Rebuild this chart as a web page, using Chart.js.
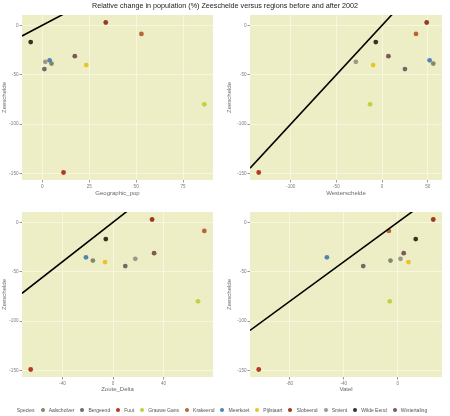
<!DOCTYPE html>
<html>
<head>
<meta charset="utf-8">
<script src="https://cdn.jsdelivr.net/npm/chart.js@4.4.0/dist/chart.umd.min.js"></script>
<style>
  body { margin: 0; background: #fff; font-family: 'Liberation Sans', Arial, sans-serif; }
  #palco { position: relative; width: 450px; height: 416px; overflow: hidden; }
  canvas { position: absolute; }
  #titulo { position: absolute; left: 0; top: 1px; width: 450px; text-align: center; font-size: 7.2px; color: #222; white-space: nowrap; z-index: 2; }
  #legenda { position: absolute; left: 0; top: 407px; width: 450px; display: flex; justify-content: center; align-items: center; font-size: 5px; color: #555; white-space: nowrap; }
  #legenda span.item { display: flex; align-items: center; margin-right: 6px; }
  #legenda span.bola { display: inline-block; width: 4px; height: 4px; border-radius: 50%; margin-right: 4px; }
</style>
</head>
<body>
<div id="palco">
  <canvas id="graficoGeo" width="225" height="200" style="left:0;top:0"></canvas>
  <canvas id="graficoWester" width="225" height="200" style="left:225px;top:0"></canvas>
  <canvas id="graficoZoute" width="225" height="200" style="left:0;top:195px"></canvas>
  <canvas id="graficoVatel" width="225" height="200" style="left:225px;top:195px"></canvas>
  <div id="titulo">Relative change in population (%) Zeeschelde versus regions before and after 2002</div>
  <div id="legenda"></div>
</div>
<script>
const especies = ['Aalscholver', 'Bergeend', 'Fuut', 'Grauwe Gans', 'Krakeend', 'Meerkoet', 'Pijlstaart', 'Slobeend', 'Smient', 'Wilde Eend', 'Wintertaling'];
const cores = ['#7d8b6a', '#6c6c6c', '#b23a24', '#c5cf3f', '#b8653a', '#4f86b0', '#e8c428', '#9a3a1e', '#9a9a88', '#333326', '#7e5a52'];

// variação (%) no Zeeschelde — eixo y de todos os painéis
const zeeschelde = [-38.8, -44.3, -149, -80, -8.8, -35.5, -40.3, 2.8, -37, -17, -31.3];
// variação (%) em cada região — eixo x
const geographicPop = [4.9, 1.1, 11.3, 86.3, 52.8, 3.9, 23.4, 33.8, 1.6, -6.2, 17.3];
const westerschelde = [56, 25, -135, -13.1, 37.1, 52, -9.8, 48.8, -28.7, -6.9, 6.9];
const zouteDelta = [-15.9, 9.7, -65.1, 67.2, 72.2, -21.4, -6.3, 30.9, 17.6, -5.7, 32.5];
const vatel = [-5.4, -25.6, -103, -5.9, -6.6, -52.5, 7.9, 26.3, 2, 13.3, 4.4];

const ticksY = [-150, -100, -50, 0];
const ticksGeo = [0, 25, 50, 75];
const ticksWester = [-100, -50, 0, 50];
const ticksZoute = [-40, 0, 40];
const ticksVatel = [-80, -40, 0];

const COR_FUNDO = '#eeeec6';
const COR_GRADE = '#f7f7e0';
const COR_TEXTO = '#7a7a7a';

// expansão de 5% como no ggplot
function limites(valores) {
  const min = Math.min(...valores), max = Math.max(...valores);
  const folga = (max - min) * 0.05;
  return [min - folga, max + folga];
}

const fundoPainel = {
  id: 'fundoPainel',
  beforeDraw(chart) {
    const { ctx, chartArea: a } = chart;
    ctx.save();
    ctx.fillStyle = COR_FUNDO;
    ctx.fillRect(a.left, a.top, a.right - a.left, a.bottom - a.top);
    ctx.restore();
  }
};

function criarGrafico(id, valoresX, ticksX, rotuloX, larguraY, padding, alturaX, padTitulo) {
  const [xMin, xMax] = limites(valoresX);
  const [yMin, yMax] = limites(zeeschelde);

  new Chart(document.getElementById(id), {
    type: 'scatter',
    data: {
      datasets: [
        {
          // linha 1:1
          type: 'line',
          data: [{ x: xMin, y: xMin }, { x: xMax, y: xMax }],
          borderColor: '#000',
          borderWidth: 1.6,
          pointRadius: 0,
          clip: 0
        },
        {
          data: valoresX.map((v, i) => ({ x: v, y: zeeschelde[i] })),
          backgroundColor: cores,
          borderColor: cores,
          borderWidth: 0,
          pointRadius: 2.4
        }
      ]
    },
    options: {
      responsive: false,
      animation: false,
      layout: { padding: padding },
      plugins: { legend: { display: false }, tooltip: { enabled: false } },
      scales: {
        x: {
          type: 'linear', min: xMin, max: xMax,
          afterBuildTicks: s => { s.ticks = ticksX.map(v => ({ value: v })); },
          afterFit: s => { s.height = alturaX; },
          grid: { color: COR_GRADE, tickColor: '#999', tickLength: 2.5, lineWidth: 1 },
          border: { display: false },
          ticks: { font: { size: 4.6 }, color: COR_TEXTO, padding: 1, maxRotation: 0 },
          title: { display: true, text: rotuloX, font: { size: 6 }, color: '#6a6a6a', padding: { top: 0, bottom: padTitulo } }
        },
        y: {
          type: 'linear', min: yMin, max: yMax,
          afterBuildTicks: s => { s.ticks = ticksY.map(v => ({ value: v })); },
          afterFit: s => { s.width = larguraY; },
          grid: { color: COR_GRADE, tickColor: '#999', tickLength: 2.5, lineWidth: 1 },
          border: { display: false },
          ticks: { font: { size: 4.6 }, color: COR_TEXTO, padding: 1 },
          title: { display: true, text: 'Zeeschelde', font: { size: 6 }, color: '#6a6a6a', padding: { top: 1, bottom: 0 } }
        }
      }
    },
    plugins: [fundoPainel]
  });
}

criarGrafico('graficoGeo', geographicPop, ticksGeo, 'Geographic_pop', 22, { top: 15, right: 12 }, 20, 3);
criarGrafico('graficoWester', westerschelde, ticksWester, 'Westerschelde', 25, { top: 15, right: 8 }, 20, 3);
criarGrafico('graficoZoute', zouteDelta, ticksZoute, 'Zoute_Delta', 22, { top: 17, right: 12 }, 18, 2);
criarGrafico('graficoVatel', vatel, ticksVatel, 'Vatel', 25, { top: 17, right: 8 }, 18, 2);

// legenda
const legenda = document.getElementById('legenda');
legenda.innerHTML = '<span class="item">Species</span>' + especies.map((e, i) =>
  `<span class="item"><span class="bola" style="background:${cores[i]}"></span>${e}</span>`
).join('');
</script>
</body>
</html>
